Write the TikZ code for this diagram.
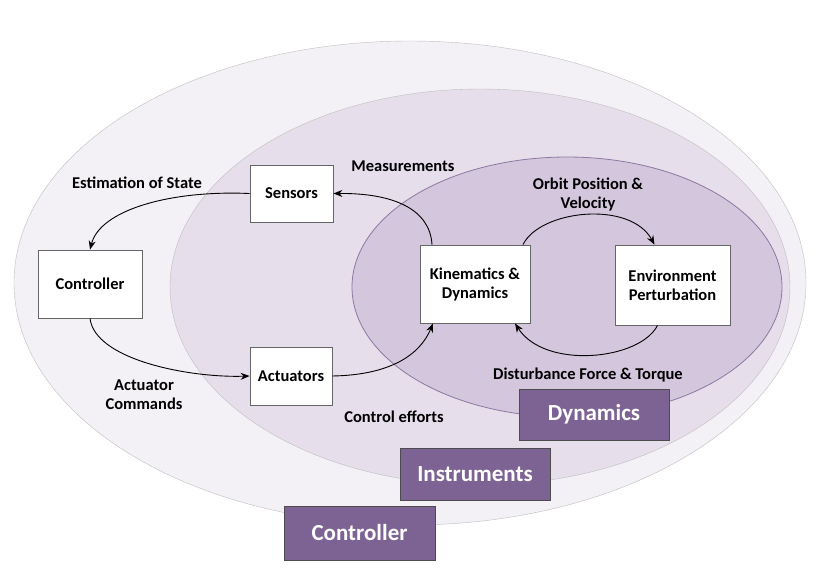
\documentclass[tikz,border=0pt]{standalone}
\usepackage{fontspec}
\setmainfont{Carlito}
\usetikzlibrary{arrows.meta}
\definecolor{e1}{HTML}{F4F1F6}
\definecolor{e2}{HTML}{E6DEEB}
\definecolor{e3}{HTML}{D4C7DD}
\definecolor{eb}{HTML}{8C78A0}
\definecolor{lab}{HTML}{7D6394}
\begin{document}
\begin{tikzpicture}[x=1pt,y=-1pt,
  box/.style={draw=black!60,fill=white,line width=0.8pt,align=center,font=\bfseries\fontsize{16.5}{19}\selectfont},
  txt/.style={align=center,font=\bfseries\fontsize{16.5}{19}\selectfont},
  tag/.style={draw=black!70,fill=lab,text=white,font=\bfseries\fontsize{23}{25}\selectfont},
  arr/.style={-{Stealth[length=9pt,width=7pt]},line width=0.9pt}]
\useasboundingbox (0,0) rectangle (820,574);
\fill[white] (0,0) rectangle (820,574);
\draw[fill=e1,draw=black!25] (410,283) ellipse [x radius=396,y radius=242];
\draw[fill=e2,draw=black!25] (480,287) ellipse [x radius=310,y radius=198];
\draw[fill=e3,draw=eb,line width=0.8pt] (567,287) ellipse [x radius=215,y radius=130];
\node[box,minimum width=83pt,minimum height=57pt] (sen) at (291.5,193.5) {Sensors};
\node[box,minimum width=104pt,minimum height=68pt] (con) at (90,284) {Controller};
\node[box,minimum width=82pt,minimum height=58pt] (act) at (291,376) {Actuators};
\node[box,minimum width=110pt,minimum height=78pt,inner sep=1pt] (kin) at (475,284) {Kinematics \&\\Dynamics};
\node[box,minimum width=115pt,minimum height=80pt,inner sep=1pt] (env) at (672.5,285) {Environment\\Perturbation};
\node[tag,minimum width=150pt,minimum height=51pt] (tdyn) at (594,414.5) {Dynamics};
\node[tag,minimum width=150pt,minimum height=52pt] (tins) at (475,474) {Instruments};
\node[tag,minimum width=151pt,minimum height=54pt] (tcon) at (359.5,533) {Controller};
\node[txt] (l1) at (137,183) {Estimation of State};
\node[txt] (l2) at (403,166) {Measurements};
\node[txt] (l3) at (588,194) {Orbit Position \&\\Velocity};
\node[txt] (l4) at (144,395) {Actuator\\Commands};
\node[txt] (l5) at (394,417) {Control efforts};
\node[txt] (l6) at (588,375) {Disturbance Force \& Torque};
\draw[arr] (sen.west) .. controls (170,190) and (100,210) .. (con.north);
\draw[arr] (con.south) .. controls (95,360) and (190,378) .. (act.west);
\draw[arr] (act.east) .. controls (390,375) and (420,355) .. ([xshift=-42pt]kin.south);
\draw[arr] ([xshift=-43pt]kin.north) .. controls (430,210) and (395,193) .. (sen.east);
\draw[arr] ([xshift=48pt]kin.north) .. controls (540,210) and (630,200) .. ([xshift=-18pt]env.north);
\draw[arr] ([xshift=-15pt]env.south) .. controls (640,360) and (545,370) .. ([xshift=40pt]kin.south);
\end{tikzpicture}
\end{document}
